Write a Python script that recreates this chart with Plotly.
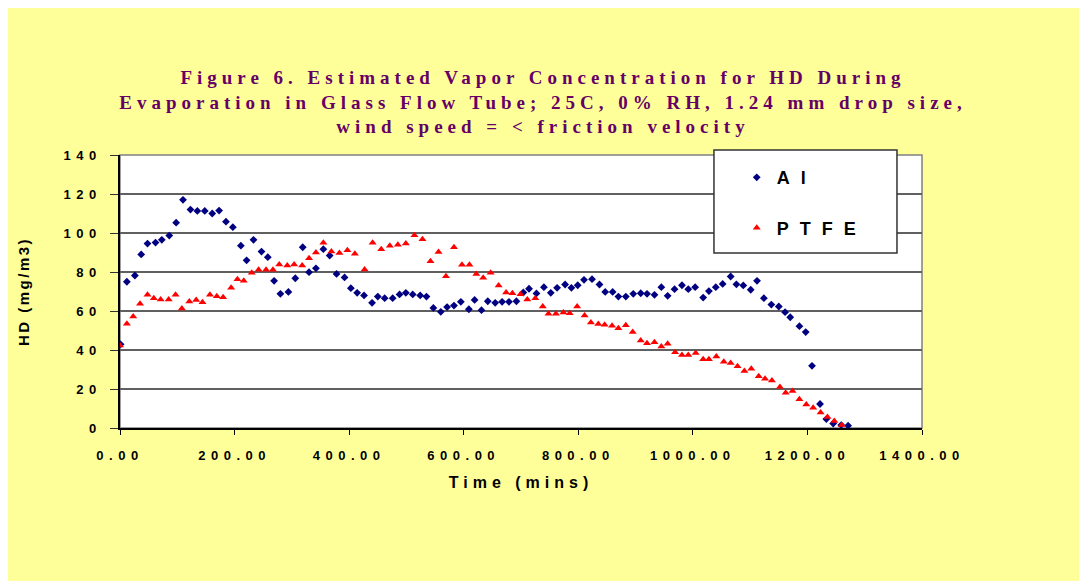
import plotly.graph_objects as go

# Al (aluminium) series
al_time = [1, 12, 26, 37, 48, 62, 73, 86, 98, 110, 123, 135, 148, 161, 173, 185, 197, 211, 221, 233,
           247, 258, 269, 280, 294, 306, 319, 330, 342, 355, 366, 378, 392, 403, 414, 426, 440, 450, 462, 476,
           488, 499, 511, 524, 535, 547, 560, 571, 583, 595, 609, 619, 631, 642, 655, 667, 679, 692, 704, 714,
           727, 740, 752, 763, 777, 788, 799, 810, 824, 837, 847, 860, 870, 883, 896, 909, 920, 933, 945, 956,
           968, 981, 992, 1004, 1018, 1028, 1040, 1052, 1066, 1076, 1088, 1101, 1112, 1124, 1137, 1150, 1161, 1170, 1186, 1197,
           1208, 1222, 1233, 1245, 1259, 1271]
al_hd = [42.9, 75, 78.2, 89, 94.6, 95.1, 96.5, 98.7, 105.3, 117, 112, 111.3, 111.3, 110, 111.5, 105.8, 103, 93.5, 86, 96.5,
         90.5, 87.6, 75.5, 68.8, 69.8, 76.8, 92.7, 79.9, 81.9, 91.7, 88.4, 79, 77.2, 71.7, 69.3, 68, 64.2, 67.4, 66.6, 66.6,
         68.5, 69.3, 68.5, 68, 67.4, 61.6, 59.6, 62, 62.8, 64.7, 60.9, 65.7, 60.4, 65, 64.2, 64.7, 64.7, 65, 69.5, 71.4,
         69, 72.2, 69.3, 71.9, 73.6, 71.9, 73.2, 76, 76.3, 73.6, 69.8, 69.8, 67.4, 67.4, 68.8, 69.1, 68.8, 68.3, 72.2, 67.8,
         71.2, 73.2, 71.2, 72.2, 66.9, 70.2, 72.2, 73.9, 77.7, 73.7, 73.1, 70.9, 75.5, 66.6, 63.3, 62.3, 59.4, 56.8, 52.2, 49.2,
         31.9, 12.3, 4.6, 2.3, 1.5, 1.2]

# PTFE series
ptfe_time = [0, 12, 23, 35, 48, 59, 71, 85, 97, 108, 121, 133, 144, 157, 169, 180, 194, 205, 216, 230,
             242, 255, 267, 278, 292, 304, 318, 330, 342, 355, 369, 383, 397, 410, 427, 441, 456, 471, 485, 499,
             514, 528, 542, 556, 569, 583, 597, 610, 622, 634, 647, 661, 674, 685, 699, 711, 725, 738, 748, 761,
             774, 785, 798, 811, 822, 835, 846, 859, 870, 883, 895, 909, 920, 933, 945, 956, 969, 981, 992, 1005,
             1018, 1028, 1041, 1054, 1066, 1078, 1090, 1102, 1115, 1126, 1138, 1152, 1162, 1174, 1186, 1198, 1210, 1223, 1235, 1247,
             1260]
ptfe_hd = [42.3, 53.5, 57.2, 63.7, 68.3, 66.6, 65.9, 65.9, 68.3, 61.3, 64.9, 65.6, 64.5, 68.3, 67.6, 67, 71.9, 76.3, 75.5, 79.6,
           81.1, 81.1, 81.1, 83.8, 83.3, 83.8, 83.3, 87, 90, 95, 90.5, 89.8, 91.1, 89.3, 81.3, 95, 91.7, 93.4, 94, 94.6,
           98.8, 96.8, 85.5, 90.3, 77.8, 92.7, 83.7, 83.7, 79, 77, 79.6, 73.1, 69.5, 69.1, 68.6, 65.9, 66.6, 62.3, 58.6, 58.6,
           59.2, 58.9, 62.3, 57.7, 54.1, 53.3, 52.9, 52.4, 51.2, 52.7, 49.2, 44.9, 43.5, 44, 41.8, 43.2, 38.8, 37.4, 37.4, 38.4,
           35.2, 35.3, 36.7, 34, 33.3, 31.7, 29.2, 30.4, 26.6, 25.3, 24.4, 21, 18.1, 19, 14.7, 12.1, 10.4, 8, 5.6, 3.6,
           1.5]

x_ticks = [0, 200, 400, 600, 800, 1000, 1200, 1400]
y_ticks = [0, 20, 40, 60, 80, 100, 120, 140]

title_lines = ["Figure 6. Estimated Vapor Concentration for HD During",
               "Evaporation in Glass Flow Tube; 25C, 0% RH, 1.24 mm drop size,",
               "wind speed = < friction velocity"]


def spaced(text, px):
    return '<span style="letter-spacing:%spx">%s</span>' % (px, text)


fig = go.Figure()
fig.add_trace(go.Scatter(
    x=al_time, y=al_hd, mode='markers', name=spaced('Al', 11), legendgroup='al',
    marker=dict(symbol='diamond', size=6, color='#000080')
))
fig.add_trace(go.Scatter(
    x=ptfe_time, y=ptfe_hd, mode='markers', name=spaced('PTFE', 11), legendgroup='ptfe',
    marker=dict(symbol='triangle-up', size=7, color='#FF0000')
))

# page body has an 8px margin, so the figure is laid out 8px up/left of the reference
fig.update_layout(
    width=1087, height=581,
    paper_bgcolor='#FFFF99', plot_bgcolor='#FFFFFF',
    margin=dict(l=112, r=173, t=147, b=161),
    font=dict(family='Liberation Sans', color='#000000'),
    title=dict(
        text='<br>'.join(spaced(s, 5) for s in title_lines),
        font=dict(family='Liberation Serif', size=19, color='#660066', weight='bold'),
        xref='container', x=(543 - 8) / 1087, xanchor='center',
        yref='container', y=1 - 76 / 581, yanchor='middle'
    ),
    showlegend=True,
    legend=dict(
        x=0.769, xanchor='left', y=0.985, yanchor='top',
        bgcolor='rgba(0,0,0,0)', borderwidth=0,
        traceorder='grouped', tracegroupgap=24,
        font=dict(size=18, weight='bold', family='Liberation Sans')
    ),
    shapes=[
        dict(type='rect', xref='paper', yref='paper', x0=0, x1=1, y0=0, y1=1,
             line=dict(color='#808080', width=1.5), layer='below'),
        dict(type='rect', xref='paper', yref='paper', x0=0.7406, x1=0.9688, y0=0.641, y1=1.0183,
             line=dict(color='#333333', width=1.5), fillcolor='#FFFFFF', layer='above'),
    ]
)

fig.update_xaxes(
    range=[0, 1400], tickvals=x_ticks,
    ticktext=[spaced('%.2f' % v, 5.5) for v in x_ticks],
    tickfont=dict(size=13, weight='bold'), ticklabelstandoff=10,
    showgrid=False, zeroline=False,
    showline=True, linecolor='#000000', linewidth=1.5,
    ticks='outside', ticklen=5, tickcolor='#000000', tickwidth=1,
    title=dict(text=spaced('Time (mins)', 5), font=dict(size=16, weight='bold'), standoff=14)
)
fig.update_yaxes(
    range=[0, 140], tickvals=y_ticks,
    ticktext=[spaced(str(v), 5.5) for v in y_ticks],
    tickfont=dict(size=13, weight='bold'), ticklabelstandoff=6,
    showgrid=True, gridcolor='#606060', gridwidth=1.5, zeroline=False,
    showline=True, linecolor='#000000', linewidth=1.5,
    ticks='outside', ticklen=8, tickcolor='#333333', tickwidth=1,
    title=dict(text=spaced('HD (mg/m3)', 2.5), font=dict(size=15, weight='bold'), standoff=30)
)

fig.write_html("out.html")
